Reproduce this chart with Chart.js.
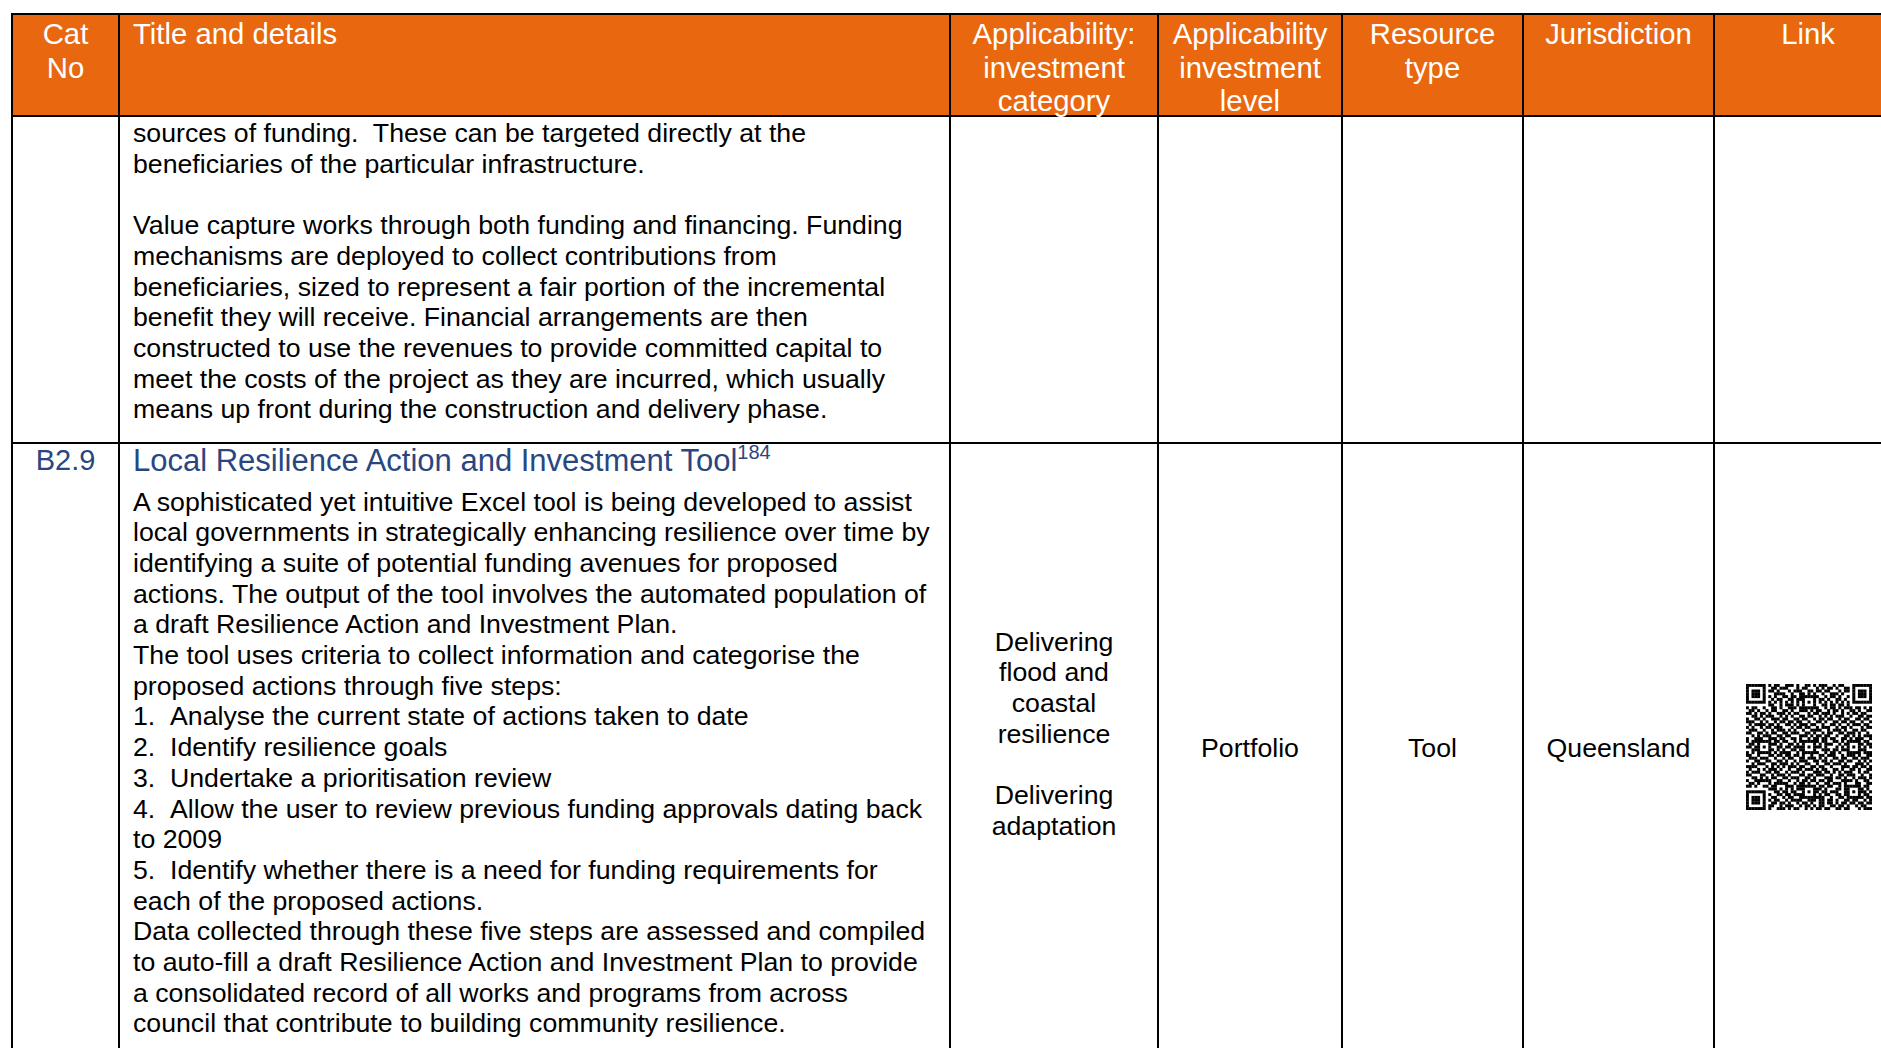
<!DOCTYPE html>
<html lang="en">
<head>
<meta charset="utf-8">
<title>B2.9 Local Resilience Action and Investment Tool</title>
<script src="https://cdn.jsdelivr.net/npm/chart.js@4.4.0/dist/chart.umd.min.js"></script>
<style>
  html, body { margin: 0; padding: 0; background: #fff; }
  body {
    width: 1881px; height: 1048px; overflow: hidden; position: relative;
    font-family: "Liberation Sans", Arial, sans-serif; color: #000;
  }
  .band  { position: absolute; left: 12px; top: 14px; width: 1900px; height: 102px; background: #E8670F; }
  .vline { position: absolute; width: 2px; top: 13px; height: 1040px; background: #000; }
  .hline { position: absolute; height: 2px; left: 11px; width: 1900px; background: #000; }
  .cell  { position: absolute; white-space: pre; }
  .head  { color: #fff; font-size: 29.3px; line-height: 33.6px; text-align: center; top: 17px; }
  .txt   { font-size: 26.7px; line-height: 30.7px; }
  .blue  { color: #29467F; }
  .num   { display: inline-block; width: 37px; }
  .sup   { font-size: 20px; position: relative; top: -12px; }
  #qr    { position: absolute; left: 1746px; top: 684px; }
</style>
</head>
<body>
<canvas id="qr" width="126" height="126"></canvas>

<script>
/* ---------- Contenido de la tabla ---------- */
const headerLabels = [
  ['Cat', 'No'],
  ['Title and details'],
  ['Applicability:', 'investment', 'category'],
  ['Applicability', 'investment', 'level'],
  ['Resource', 'type'],
  ['Jurisdiction'],
  ['Link']
];

// fila anterior (continuación de la página previa)
const prevRowLines = [
  'sources of funding.  These can be targeted directly at the',
  'beneficiaries of the particular infrastructure.',
  '',
  'Value capture works through both funding and financing. Funding',
  'mechanisms are deployed to collect contributions from',
  'beneficiaries, sized to represent a fair portion of the incremental',
  'benefit they will receive. Financial arrangements are then',
  'constructed to use the revenues to provide committed capital to',
  'meet the costs of the project as they are incurred, which usually',
  'means up front during the construction and delivery phase.'
];

const catNo = 'B2.9';
const itemTitle = 'Local Resilience Action and Investment Tool';
const footnoteRef = '184';

const itemLines = [
  'A sophisticated yet intuitive Excel tool is being developed to assist',
  'local governments in strategically enhancing resilience over time by',
  'identifying a suite of potential funding avenues for proposed',
  'actions. The output of the tool involves the automated population of',
  'a draft Resilience Action and Investment Plan.',
  'The tool uses criteria to collect information and categorise the',
  'proposed actions through five steps:',
  '1. Analyse the current state of actions taken to date',
  '2. Identify resilience goals',
  '3. Undertake a prioritisation review',
  '4. Allow the user to review previous funding approvals dating back',
  'to 2009',
  '5. Identify whether there is a need for funding requirements for',
  'each of the proposed actions.',
  'Data collected through these five steps are assessed and compiled',
  'to auto-fill a draft Resilience Action and Investment Plan to provide',
  'a consolidated record of all works and programs from across',
  'council that contribute to building community resilience.'
];

const investmentCategory = ['Delivering', 'flood and', 'coastal', 'resilience', '', 'Delivering', 'adaptation'];
const investmentLevel = 'Portfolio';
const resourceType = 'Tool';
const jurisdiction = 'Queensland';

// código QR del enlace, fila por fila (1 = módulo negro), 45 x 45
const qrRows = [
  '1111111 0 10110 01110 10011 01011 10010 1100 0 1111111',
  '1000001 0 01101 11000 10110 00101 01101 0011 0 1000001',
  '1011101 0 11010 00101 11001 10110 11000 1011 0 1011101',
  '1011101 0 00111 10010 01101 01001 00111 0100 0 1011101',
  '1011101 0 10100 11011 01 11111 10010 11010 01 0 1011101',
  '1000001 0 01011 00110 11 10001 01101 00110 10 0 1000001',
  '1111111 0 10101 01010 10 10101 01010 10101 01 0 1111111',
  '0000000 0 11001 01110 10 10001 00110 11011 01 0 0000000',
  '101100 1 0 01101 00111 01 11111 10010 11010 11 10110101',
  '011010 0 10110 01101 00111 01011 00101 10100 11010 011',
  '110101 1 01001 11010 11000 10110 11101 00101 01101 100',
  '001101 0 11100 10101 00110 11001 01010 11100 10011 011',
  '100110 1 00111 01100 11011 00101 10110 01011 00110 110',
  '111001 0 10010 11011 01100 10011 01001 10110 11001 001',
  '010111 1 01101 00110 10111 01100 10011 01001 01110 110',
  '101001 0 11011 10001 01101 10010 11100 10110 10001 011',
  '011100 1 00101 11010 10010 01111 00101 11010 01101 100',
  '110011 0 10110 01101 11001 10100 10110 01101 11010 010',
  '001010 1 11001 10110 00111 01011 01100 10011 01010 111',
  '100111 0 01110 11001 10100 10110 11011 00110 10111 001',
  '1011 11111 01101 100101 11111 10110 011010 11111 0110',
  '0110 10001 11010 011010 10001 01011 100101 10001 1011',
  '1101 10101 00110 110111 10101 11010 001010 10101 0101',
  '0011 10001 10101 001101 10001 00111 011011 10001 1100',
  '1010 11111 01011 110010 11111 10010 110100 11111 0111',
  '110010 0 01101 10110 11010 01001 10111 00101 11010 011',
  '011101 1 10010 01011 00110 11101 01001 10110 01101 110',
  '100110 0 11001 10100 10111 00110 11010 01101 10010 101',
  '001011 1 00110 11101 01001 10010 01101 11010 00111 010',
  '111100 0 10101 01011 10110 01101 10010 00111 01101 101',
  '010010 1 01110 10010 01101 11010 11001 10100 11010 011',
  '101110 0 11011 00101 11010 00111 01101 01011 10010 110',
  '110001 1 00101 11010 00110 11011 10010 01101 11001 001',
  '001101 0 10110 01101 11001 10100 01110 11010 01011 101',
  '100111 1 11001 10010 01011 01101 10110 00111 10100 110',
  '011010 0 01011 11100 10110 10010 01101 11010 00110 011',
  '110100 1 10110 00111 011 11111 01101 100101 11111 0110',
  '00000000 11101 01010 11 10001 11010 001101 10001 1010',
  '1111111 0 00110 11011 00 10101 10110 111001 10101 1101',
  '1000001 0 10011 01101 11 10001 01011 001101 10001 0110',
  '1011101 0 01100 10110 01 11111 11100 100110 11111 1011',
  '1011101 0 10110 01011 11001 11011 01101 00110 11001 01',
  '1011101 0 01101 10100 10110 10011 01101 01101 10110 11',
  '1000001 0 11001 01110 01011 01011 00110 11010 01011 00',
  '1111111 0 10011 10101 10010 10110 11001 10110 00101 11'
];

/* ---------- Maquetación ---------- */
const colEdges = [12, 119, 950, 1158, 1342, 1523, 1714, 1902];
const rowEdges = [14, 116, 443];

document.addEventListener('DOMContentLoaded', () => {
  try { buildTable(); } catch (err) { console.error('No se pudo armar la tabla:', err); }
  try { initQrChart(); } catch (err) { console.error('No se pudo dibujar el QR:', err); }
});

function addCell(cls, left, top, width, html, align) {
  const el = document.createElement('div');
  el.className = 'cell ' + cls;
  el.style.left = left + 'px';
  el.style.top = top + 'px';
  if (width) el.style.width = width + 'px';
  if (align) el.style.textAlign = align;
  el.innerHTML = html;
  document.body.appendChild(el);
  return el;
}

function esc(s) {
  return s.replace(/&/g, '&amp;').replace(/</g, '&lt;');
}

function linesToHtml(lines) {
  return lines.map(line => {
    const m = line.match(/^(\d\.)\s+(.*)$/);
    if (m) return '<span class="num">' + m[1] + '</span>' + esc(m[2]);
    return line === '' ? '&nbsp;' : esc(line);
  }).join('<br>');
}

function buildTable() {
  const band = document.createElement('div');
  band.className = 'band';
  document.body.appendChild(band);

  colEdges.slice(0, -1).forEach(x => {
    const v = document.createElement('div');
    v.className = 'vline';
    v.style.left = (x - 1) + 'px';
    document.body.appendChild(v);
  });
  rowEdges.forEach(y => {
    const h = document.createElement('div');
    h.className = 'hline';
    h.style.top = (y - 1) + 'px';
    document.body.appendChild(h);
  });

  // encabezado
  headerLabels.forEach((lines, i) => {
    const left = colEdges[i];
    const width = colEdges[i + 1] - colEdges[i];
    if (i === 1) addCell('head', 133, 17, null, lines.map(esc).join('<br>'), 'left');
    else addCell('head', left, 17, width, lines.map(esc).join('<br>'));
  });

  // fila previa
  addCell('txt', 133, 118, null, linesToHtml(prevRowLines));

  // fila B2.9
  addCell('blue', colEdges[0], 443, colEdges[1] - colEdges[0], esc(catNo), 'center')
    .style.cssText += 'font-size:29px;line-height:34px;';
  addCell('blue', 133, 444, null,
    esc(itemTitle) + '<span class="sup">' + footnoteRef + '</span>')
    .style.cssText += 'font-size:31px;line-height:34px;';
  addCell('txt', 133, 486.5, null, linesToHtml(itemLines));

  addCell('txt', colEdges[2], 626.5, colEdges[3] - colEdges[2], linesToHtml(investmentCategory), 'center');
  addCell('txt', colEdges[3], 732.5, colEdges[4] - colEdges[3], esc(investmentLevel), 'center');
  addCell('txt', colEdges[4], 732.5, colEdges[5] - colEdges[4], esc(resourceType), 'center');
  addCell('txt', colEdges[5], 732.5, colEdges[6] - colEdges[5], esc(jurisdiction), 'center');
}

/* ---------- Código QR (Chart.js, módulos como puntos cuadrados) ---------- */
function initQrChart() {
  if (typeof Chart === 'undefined') {
    console.warn('Chart.js no está disponible; se omite el QR.');
    return;
  }

  const rows = qrRows.map(r => r.replace(/ /g, ''));
  const size = rows.length;
  const modules = [];
  rows.forEach((row, y) => {
    if (row.length !== size) console.warn('fila QR', y, 'tiene', row.length);
    for (let x = 0; x < row.length; x++) {
      if (row[x] === '1') modules.push({ x, y });
    }
  });

  const canvas = document.getElementById('qr');
  const cell = (ctx) => {
    const xs = ctx.chart.scales.x;
    return Math.abs(xs.getPixelForValue(1) - xs.getPixelForValue(0)) * Math.SQRT1_2 + 0.15;
  };

  new Chart(canvas, {
    type: 'scatter',
    data: {
      datasets: [{
        data: modules,
        pointStyle: 'rect',
        pointRadius: cell,
        pointHoverRadius: cell,
        backgroundColor: '#000',
        borderWidth: 0
      }]
    },
    options: {
      responsive: false,
      animation: false,
      events: [],
      layout: { padding: 0 },
      plugins: { legend: { display: false }, tooltip: { enabled: false } },
      scales: {
        x: { type: 'linear', min: -0.5, max: size - 0.5, display: false },
        y: { type: 'linear', min: -0.5, max: size - 0.5, reverse: true, display: false }
      }
    }
  });
}
</script>
</body>
</html>
